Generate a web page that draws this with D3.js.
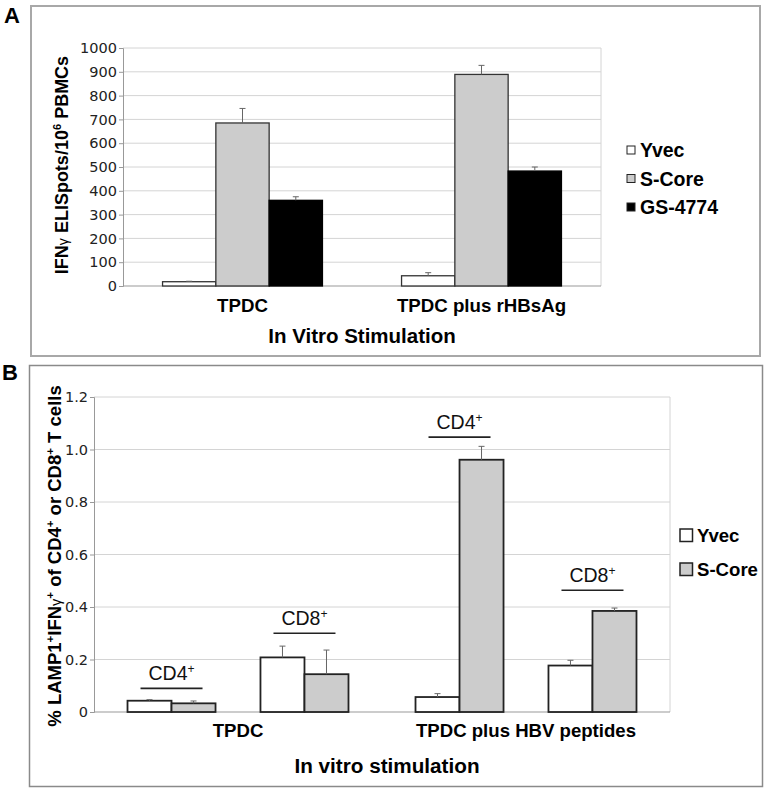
<!DOCTYPE html>
<html><head><meta charset="utf-8">
<script src="https://cdn.jsdelivr.net/npm/d3@7"></script>
<style>body{margin:0;background:#fff}svg{display:block}</style>
</head><body>
<script>
// ---------- DATA ----------
// Panel A
const categoriesA = ["TPDC", "TPDC plus rHBsAg"];
const seriesA = ["Yvec", "S-Core", "GS-4774"];
const yvecA = [18, 43];
const scoreA = [685, 889];
const gsA = [360, 483];
const yvecErrA = [2, 13];
const scoreErrA = [61, 38];
const gsErrA = [15, 17];
const ticksA = [0, 100, 200, 300, 400, 500, 600, 700, 800, 900, 1000];

// Panel B
const categoriesB = ["TPDC", "TPDC plus HBV peptides"];
const subsetsB = ["CD4", "CD8"];
const seriesB = ["Yvec", "S-Core"];
// order: TPDC-CD4, TPDC-CD8, HBV-CD4, HBV-CD8
const yvecB = [0.043, 0.208, 0.057, 0.177];
const scoreB = [0.033, 0.144, 0.961, 0.385];
const yvecErrB = [0.004, 0.043, 0.013, 0.020];
const scoreErrB = [0.009, 0.092, 0.051, 0.011];
const annotYB = [0.09, 0.30, 1.047, 0.464];
const ticksB = [0, 0.2, 0.4, 0.6, 0.8, 1.0, 1.2];

const colors = {"Yvec": "#ffffff", "S-Core": "#cccccc", "GS-4774": "#000000"};

// ---------- SETUP ----------
const W = 770, H = 792;
const svg = d3.select("body").append("svg").attr("width", W).attr("height", H);
const TICKFONT = "'DejaVu Sans', Verdana, sans-serif";
const BOLDFONT = "'Liberation Sans', Arial, sans-serif";

// frames
svg.append("rect").attr("x", 31).attr("y", 6).attr("width", 729).attr("height", 350)
  .attr("fill", "none").attr("stroke", "#a8a8a8").attr("stroke-width", 2);
svg.append("rect").attr("x", 29.5).attr("y", 365.5).attr("width", 733).attr("height", 421)
  .attr("fill", "none").attr("stroke", "#8a8a8a").attr("stroke-width", 1.5);
svg.append("text").attr("x", 4).attr("y", 23).text("A")
  .attr("font-family", BOLDFONT).attr("font-weight", "bold").attr("font-size", 22);
svg.append("text").attr("x", 2).attr("y", 380).text("B")
  .attr("font-family", BOLDFONT).attr("font-weight", "bold").attr("font-size", 22);

function drawYAxis(g, y, x0, x1, ticks, fmt) {
  // gridlines
  g.selectAll(".grid").data(ticks.filter(t => t !== 0)).join("line")
    .attr("x1", x0).attr("x2", x1).attr("y1", d => y(d)).attr("y2", d => y(d))
    .attr("stroke", "#d4d4d4").attr("stroke-width", 1);
  // right border
  g.append("line").attr("x1", x1).attr("x2", x1).attr("y1", y(ticks[ticks.length-1])).attr("y2", y(0))
    .attr("stroke", "#d4d4d4");
  const ax = g.append("g").attr("transform", `translate(${x0},0)`)
    .call(d3.axisLeft(y).tickValues(ticks).tickFormat(fmt).tickSize(4).tickPadding(2));
  ax.select(".domain").attr("stroke", "#999");
  ax.selectAll(".tick line").attr("stroke", "#999");
  ax.selectAll("text").attr("font-family", TICKFONT).attr("font-size", 14.5).attr("fill", "#222");
  // x axis baseline
  g.append("line").attr("x1", x0).attr("x2", x1).attr("y1", y(0)).attr("y2", y(0))
    .attr("stroke", "#999");
}

function errBar(g, cx, yTop, yEnd) {
  g.append("line").attr("x1", cx).attr("x2", cx).attr("y1", yTop).attr("y2", yEnd)
    .attr("stroke", "#666").attr("stroke-width", 1);
  g.append("line").attr("x1", cx - 3).attr("x2", cx + 3).attr("y1", yEnd).attr("y2", yEnd)
    .attr("stroke", "#666").attr("stroke-width", 1);
}

function supText(t, parts, sizeMain) {
  parts.forEach(p => {
    const ts = t.append("tspan").text(p.s);
    if (p.sup) { ts.attr("font-size", sizeMain * 0.62).attr("dy", -sizeMain * 0.38); }
    else if (p.after) { ts.attr("dy", sizeMain * 0.38); }
    if (p.small) { ts.attr("font-size", sizeMain * 0.78).attr("font-weight", "normal"); }
  });
}

// ---------- PANEL A ----------
(function () {
  const g = svg.append("g");
  const L = 123, R = 601, T = 48, B = 286;
  const y = d3.scaleLinear().domain([0, 1000]).range([B, T]);
  const x0 = d3.scaleBand().domain(categoriesA).range([L, R]);
  const x1 = d3.scaleBand().domain(seriesA).range([0, x0.bandwidth()]).paddingOuter(0.742).paddingInner(0);
  drawYAxis(g, y, L, R, ticksA, d3.format("d"));

  const vals = {"Yvec": yvecA, "S-Core": scoreA, "GS-4774": gsA};
  const errs = {"Yvec": yvecErrA, "S-Core": scoreErrA, "GS-4774": gsErrA};
  categoriesA.forEach((c, i) => {
    seriesA.forEach(s => {
      const bx = x0(c) + x1(s), v = vals[s][i];
      g.append("rect").attr("x", bx).attr("y", y(v)).attr("width", x1.bandwidth()).attr("height", y(0) - y(v))
        .attr("fill", colors[s]).attr("stroke", s === "GS-4774" ? "#000" : "#333").attr("stroke-width", 1.3);
      errBar(g, bx + x1.bandwidth() / 2, y(v), y(v + errs[s][i]));
    });
    g.append("text").attr("x", x0(c) + x0.bandwidth() / 2).attr("y", 312).attr("text-anchor", "middle")
      .attr("font-family", BOLDFONT).attr("font-weight", "bold").attr("font-size", 18.7).text(c);
  });
  g.append("text").attr("x", 362).attr("y", 343).attr("text-anchor", "middle")
    .attr("font-family", BOLDFONT).attr("font-weight", "bold").attr("font-size", 20.5).text("In Vitro Stimulation");

  const yt = g.append("text").attr("transform", "translate(68,165) rotate(-90)").attr("text-anchor", "middle")
    .attr("font-family", BOLDFONT).attr("font-weight", "bold").attr("font-size", 18);
  supText(yt, [{s: "IFN"}, {s: "γ", small: true}, {s: " ELISpots/10"}, {s: "6", sup: true}, {s: " PBMCs", after: true}], 18);

  // legend
  const lg = g.append("g");
  seriesA.forEach((s, i) => {
    const cy = 150 + i * 28.5;
    lg.append("rect").attr("x", 627).attr("y", cy - 4).attr("width", 8).attr("height", 8)
      .attr("fill", colors[s]).attr("stroke", "#222").attr("stroke-width", 1);
    lg.append("text").attr("x", 640).attr("y", cy + 7).text(s)
      .attr("font-family", BOLDFONT).attr("font-weight", "bold").attr("font-size", 19.5);
  });
})();

// ---------- PANEL B ----------
(function () {
  const g = svg.append("g");
  const L = 94, R = 670, T = 397, B = 712;
  const y = d3.scaleLinear().domain([0, 1.2]).range([B, T]);
  const x0 = d3.scaleBand().domain(categoriesB).range([L, R]);
  const x1 = d3.scaleBand().domain(subsetsB).range([0, x0.bandwidth()]).paddingInner(0.338).paddingOuter(0.252);
  const x2 = d3.scaleBand().domain(seriesB).range([0, x1.bandwidth()]);
  drawYAxis(g, y, L, R, ticksB, d => d === 0 ? "0" : d3.format(".1f")(d));

  const vals = {"Yvec": yvecB, "S-Core": scoreB};
  const errs = {"Yvec": yvecErrB, "S-Core": scoreErrB};
  categoriesB.forEach((c, i) => {
    subsetsB.forEach((sub, j) => {
      const k = i * subsetsB.length + j;
      const gx = x0(c) + x1(sub);
      seriesB.forEach(s => {
        const bx = gx + x2(s), v = vals[s][k];
        g.append("rect").attr("x", bx).attr("y", y(v)).attr("width", x2.bandwidth()).attr("height", y(0) - y(v))
          .attr("fill", colors[s]).attr("stroke", "#222").attr("stroke-width", 1.8);
        errBar(g, bx + x2.bandwidth() / 2, y(v), y(v + errs[s][k]));
      });
      // annotation
      const cx = gx + x1.bandwidth() / 2, ly = y(annotYB[k]);
      g.append("line").attr("x1", cx - 31).attr("x2", cx + 31).attr("y1", ly).attr("y2", ly)
        .attr("stroke", "#222").attr("stroke-width", 1.6);
      const at = g.append("text").attr("x", cx).attr("y", ly - 8).attr("text-anchor", "middle")
        .attr("font-family", BOLDFONT).attr("font-size", 19.5).attr("fill", "#111");
      supText(at, [{s: sub}, {s: "+", sup: true}], 19.5);
    });
    g.append("text").attr("x", x0(c) + x0.bandwidth() / 2).attr("y", 737).attr("text-anchor", "middle")
      .attr("font-family", BOLDFONT).attr("font-weight", "bold").attr("font-size", 18.6).text(c);
  });
  g.append("text").attr("x", 387).attr("y", 773).attr("text-anchor", "middle")
    .attr("font-family", BOLDFONT).attr("font-weight", "bold").attr("font-size", 20.7).text("In vitro stimulation");

  const yt = g.append("text").attr("transform", "translate(61,556) rotate(-90)").attr("text-anchor", "middle")
    .attr("font-family", BOLDFONT).attr("font-weight", "bold").attr("font-size", 18.5);
  supText(yt, [{s: "% LAMP1"}, {s: "+", sup: true}, {s: "IFN", after: true}, {s: "γ", small: true}, {s: "+", sup: true},
    {s: " of CD4", after: true}, {s: "+", sup: true}, {s: " or CD8", after: true}, {s: "+", sup: true}, {s: " T cells", after: true}], 18.5);

  const lg = g.append("g");
  seriesB.forEach((s, i) => {
    const cy = 535 + i * 34;
    lg.append("rect").attr("x", 680).attr("y", cy - 6).attr("width", 12.5).attr("height", 12.5)
      .attr("fill", colors[s]).attr("stroke", "#222").attr("stroke-width", 1.5);
    lg.append("text").attr("x", 697).attr("y", cy + 7).text(s)
      .attr("font-family", BOLDFONT).attr("font-weight", "bold").attr("font-size", 18.6);
  });
})();
</script>
</body></html>
